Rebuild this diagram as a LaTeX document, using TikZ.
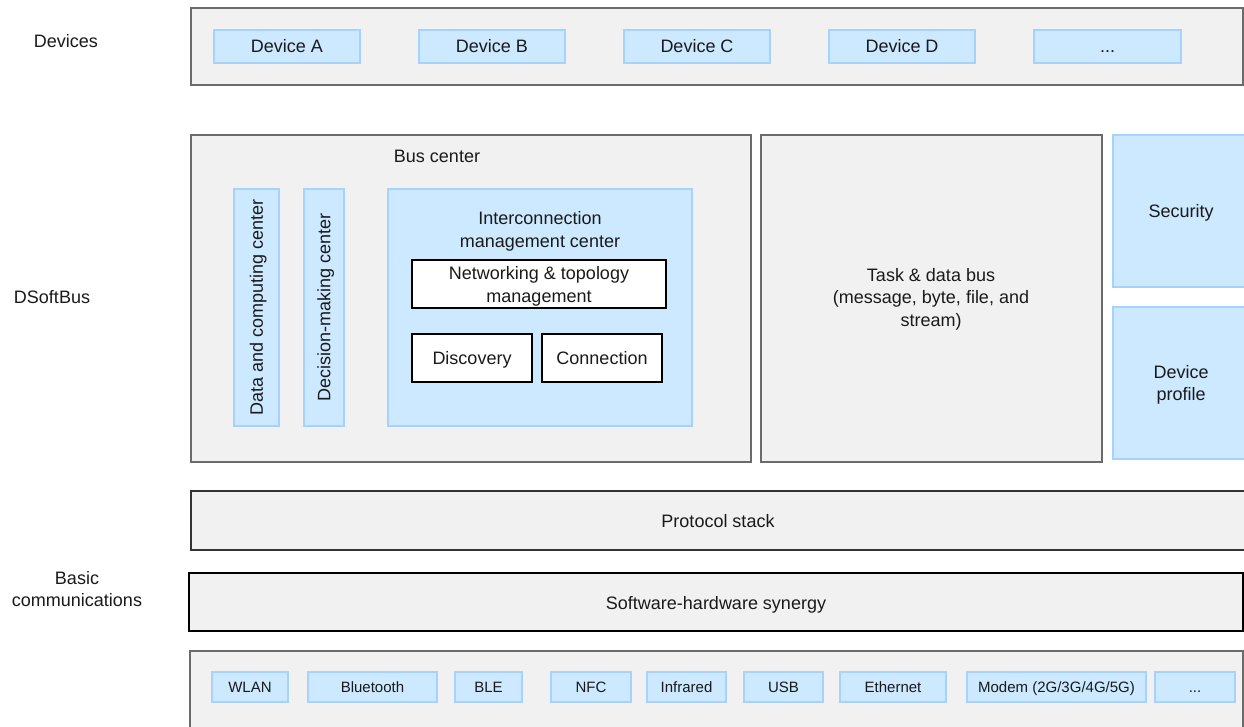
\documentclass[tikz,border=0pt]{standalone}
\usepackage{fontspec}
\setmainfont{Liberation Sans}
\usetikzlibrary{fit}
\definecolor{panel}{HTML}{F1F1F1}
\definecolor{panelline}{HTML}{6B6B6B}
\definecolor{bluefill}{HTML}{CCE9FF}
\definecolor{blueline}{HTML}{A6D2FF}
\definecolor{ink}{HTML}{1A1A1A}
\begin{document}
\begin{tikzpicture}[x=0.75pt,y=-0.75pt,
  every node/.style={font=\fontsize{13.5}{17}\selectfont, text=ink, inner sep=0pt, align=center},
  panelbox/.style={draw=panelline, fill=panel, line width=1pt},
  darkbox/.style={draw=black!80, fill=panel, line width=1.5pt},
  bluebox/.style={draw=blueline, fill=bluefill, line width=1.1pt},
  whitebox/.style={draw=black, fill=white, line width=1.1pt},
  oneline/.style={text height=9.7pt, text depth=0pt},
  small/.style={font=\fontsize{11.25}{14}\selectfont, text height=8.1pt, text depth=0pt},
  sidelabel/.style={font=\fontsize{13.5}{16.5}\selectfont}]
\clip (0,0) rectangle (1244,726);
\fill[white] (0,0) rectangle (1244,726);

% left-hand layer labels
\node[sidelabel] (lDevices) at (66,41) {Devices};
\node[sidelabel] (lBus) at (52,297) {DSoftBus};
\node[sidelabel] (lBasic) at (77,589) {Basic\\communications};

% devices layer
\node[panelbox, fit={(191,8)(1243,85)}] (devices) {};
\node[bluebox, fit={(214,30)(360,63)}] (devA) {};
\node[bluebox, fit={(419,30)(565,63)}] (devB) {};
\node[bluebox, fit={(624,30)(770,63)}] (devC) {};
\node[bluebox, fit={(829,30)(975,63)}] (devD) {};
\node[bluebox, fit={(1034,30)(1181,63)}] (devMore) {};
\node[oneline] at (devA.center) {Device A};
\node[oneline] at (devB.center) {Device B};
\node[oneline] at (devC.center) {Device C};
\node[oneline] at (devD.center) {Device D};
\node[oneline] at (devMore.center) {...};

% bus center
\node[panelbox, fit={(191,135)(751,462)}] (buscenter) {};
\node[oneline] (busTitle) at (437,156) {Bus center};
\node[bluebox, fit={(234,189)(279,426)}] (dataBox) {};
\node[rotate=90, oneline] (dataText) at (dataBox.center) {Data and computing center};
\node[bluebox, fit={(304,189)(344,426)}] (decBox) {};
\node[rotate=90, oneline] (decText) at (decBox.center) {Decision-making center};
\node[bluebox, fit={(388,189)(692,426)}] (icm) {};
\node (icmTitle) at (540,231.5) {Interconnection\\management center};
\node[whitebox, fit={(412,260)(666,308)}] (net) {};
\node at ([yshift=-2pt]net.center) {Networking \& topology\\management};
\node[whitebox, fit={(412,334)(532,382)}] (disc) {};
\node[oneline] at (disc.center) {Discovery};
\node[whitebox, fit={(542,334)(662,382)}] (conn) {};
\node[oneline] at (conn.center) {Connection};

% task & data bus, security, device profile
\node[panelbox, fit={(761,135)(1102,462)}] (taskbus) {};
\node at (931,299) {Task \& data bus\\(message, byte, file, and\\stream)};
\node[bluebox, fit={(1113,135)(1252,287)}] (secBox) {};
\node[oneline] (secText) at (1181,211) {Security};
\node[bluebox, fit={(1113,307)(1252,459)}] (profBox) {};
\node (profText) at (1181,385) {Device\\profile};

% basic communications
\node[darkbox, fit={(191,491)(1252,550)}] (proto) {};
\node[oneline] (protoText) at (718,521) {Protocol stack};
\node[darkbox, draw=black, fit={(189,573)(1243,631)}] (synergy) {};
\node[oneline] (synText) at (716,603) {Software-hardware synergy};
\node[panelbox, fit={(190,651)(1243,745)}] (media) {};
\node[bluebox, fit={(212,672)(288,702)}] (wlan) {};
\node[bluebox, fit={(308,672)(437,702)}] (bt) {};
\node[bluebox, fit={(455,672)(522,702)}] (ble) {};
\node[bluebox, fit={(551,672)(631,702)}] (nfc) {};
\node[bluebox, fit={(647,672)(726,702)}] (ir) {};
\node[bluebox, fit={(744,672)(823,702)}] (usb) {};
\node[bluebox, fit={(840,672)(946,702)}] (eth) {};
\node[bluebox, fit={(967,672)(1146,702)}] (modem) {};
\node[bluebox, fit={(1155,672)(1235,702)}] (mediaMore) {};
\node[small] at (wlan.center) {WLAN};
\node[small] at (bt.center) {Bluetooth};
\node[small] at (ble.center) {BLE};
\node[small] at (nfc.center) {NFC};
\node[small] at (ir.center) {Infrared};
\node[small] at (usb.center) {USB};
\node[small] at (eth.center) {Ethernet};
\node[small] at (modem.center) {Modem (2G/3G/4G/5G)};
\node[small] at (mediaMore.center) {...};
\end{tikzpicture}
\end{document}
